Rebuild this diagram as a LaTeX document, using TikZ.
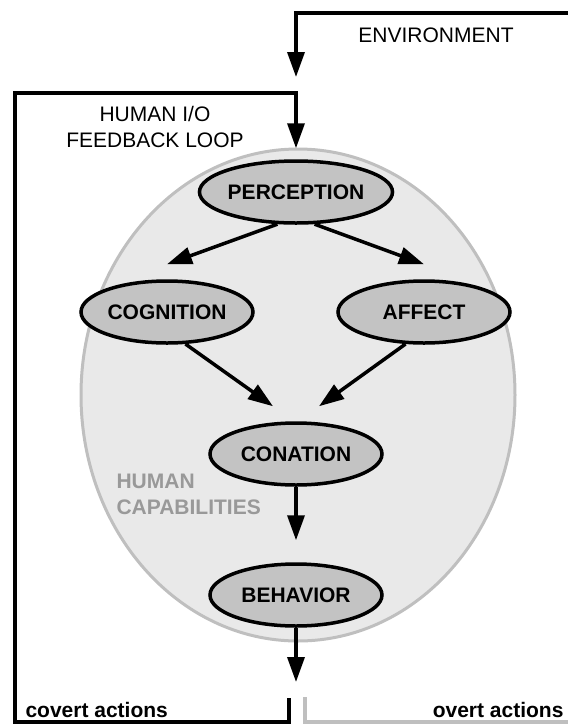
\documentclass[tikz,border=0pt]{standalone}
\usepackage{fontspec}
\setmainfont{Liberation Sans}
\usetikzlibrary{arrows.meta,shapes.geometric}
\definecolor{capfill}{HTML}{E9E9E9}
\definecolor{capline}{HTML}{BFBFBF}
\definecolor{statefill}{HTML}{C3C3C3}
\definecolor{captext}{HTML}{999999}
\begin{document}
	\begin{tikzpicture}[x=1pt, y=-1pt,
		state/.style = {ellipse, draw, line width=3.5pt, fill=statefill, inner sep=0pt, minimum width=172pt, minimum height=62pt, font=\fontsize{21}{25}\selectfont\bfseries},
		flow/.style = {line width=3.5pt, -{Triangle[length=25pt,width=17pt]}},
		label/.style = {font=\fontsize{21}{26}\selectfont, align=center}]
		\useasboundingbox (0,0) rectangle (568,724);
		% human capabilities
		\draw [capline, fill=capfill, line width=3pt] (298,395) ellipse [x radius=217, y radius=246];
		\node [label, text=captext, align=left, anchor=north west, font=\fontsize{21}{26}\selectfont\bfseries] (capab) at (113,471) {HUMAN\\CAPABILITIES};
		\node [state] (percep) at (296,192) {PERCEPTION};
		\node [state] (cogn) at (167,312) {COGNITION};
		\node [state] (affect) at (424,312) {AFFECT};
		\node [state] (conat) at (296,454) {CONATION};
		\node [state] (behav) at (296,595) {BEHAVIOR};
		\draw [flow] (percep.240) -- ([yshift=15pt]cogn.north);
		\draw [flow] (percep.300) -- ([yshift=15pt]affect.north);
		\draw [flow] (cogn.300) -- ([xshift=-23pt, yshift=15pt]conat.north);
		\draw [flow] (affect.240) -- ([xshift=23pt, yshift=15pt]conat.north);
		\draw [flow, shorten >=22pt] (conat.south) -- (behav.north);
		\coordinate (out) at (296,682);
		\draw [flow] (behav.south) -- (out);
		% environment
		\coordinate (envR) at (568,13);
		\node [label] (env) at (436,35) {ENVIRONMENT};
		\draw [flow] (envR) -| (296,77);
		% feedback loop
		\coordinate (covR) at (289,698);
		\node [label] (loop) at (155,127) {HUMAN I/O\\FEEDBACK LOOP};
		\draw [flow] (covR) -- (289,722) -| (15,93) -| ([yshift=11pt]percep.north);
		\coordinate (ovL) at (305,697);
		\draw [capline, line width=3.5pt] (ovL) |- (568,722);
		\node [anchor=base west, font=\fontsize{21}{25}\selectfont\bfseries] (covert) at (22,717) {covert actions};
		\node [anchor=base east, font=\fontsize{21}{25}\selectfont\bfseries] (overt) at (567,717) {overt actions};
	\end{tikzpicture}
\end{document}
